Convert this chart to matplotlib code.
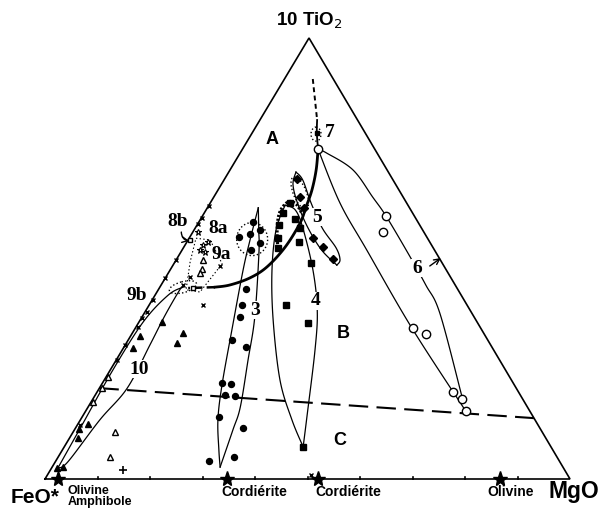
import numpy as np
import matplotlib
matplotlib.use('Agg')
import matplotlib.pyplot as plt
from matplotlib.patches import Ellipse

# ---- data : ternary compositions, % (MgO, 10*TiO2), FeO* = remainder ----
g3_mgo = [10.3, 12.5, 11.1, 9.4, 14.1, 13.1, 16.6, 17.7, 18.7, 19.8, 23.3, 22.7, 24.6, 24.7, 26.7, 26.1, 31.9, 29.2, 33.5]
g3_tio2 = [58.3, 56.5, 55.6, 54.9, 53.5, 51.9, 43.1, 39.5, 36.7, 31.5, 29.9, 21.8, 21.5, 19.0, 18.8, 14.1, 11.6, 4.1, 5.0]

g4_mgo = [15.2, 15.0, 18.0, 15.6, 20.0, 16.9, 21.4, 18.0, 26.0, 26.0, 32.3, 45.5]
g4_tio2 = [62.6, 60.3, 59.0, 57.6, 56.9, 54.6, 53.7, 52.4, 49.0, 39.5, 35.4, 7.3]

g5_mgo = [13.8, 16.4, 18.4, 23.6, 26.5, 29.8]
g5_tio2 = [68.0, 63.9, 61.5, 54.6, 52.6, 49.9]

g6_mgo = [14.4, 35.0, 36.2, 52.9, 56.0, 67.8, 70.3, 72.4]
g6_tio2 = [74.8, 59.6, 56.0, 34.2, 32.9, 19.7, 18.1, 15.4]

g10_mgo = [4.4, 1.8, 1.8, 9.6, 9.7, 1.9, 0.8, 1.6, 1.0, 2.1]
g10_tio2 = [35.6, 32.4, 29.7, 33.1, 30.8, 12.5, 11.3, 9.3, 2.5, 2.7]

otri_mgo = [0.4, 0.5, 0.3, 8.0, 9.9, 5.1, 6.0, 6.0]
otri_tio2 = [23.1, 20.6, 17.5, 10.7, 5.0, 49.7, 47.6, 46.7]

cross_mgo = [0.1, 0.1, 0.0, 0.0, 0.0, 0.2, 0.4, 0.1, 0.4, 0.0, 0.1, 0.5, 10.2, 9.0, 4.6, 4.2, 50.2]
cross_tio2 = [61.9, 59.2, 57.8, 49.7, 45.6, 40.6, 37.9, 36.5, 34.5, 30.4, 27.0, 12.2, 39.5, 48.3, 45.8, 44.0, 0.9]

ast_mgo = [4.0, 3.4, 3.4, 4.6, 1.0]
ast_tio2 = [53.7, 53.1, 51.9, 51.5, 56.0]

osq_mgo = [0.4, 6.4]
osq_tio2 = [54.2, 43.3]

plus_mgo = [13.8]
plus_tio2 = [2.0]

g7_mgo = [12.3]
g7_tio2 = [78.5]

mineral_mgo = [2.5, 34.7, 52.0, 86.7]
mineral_tio2 = [0, 0, 0, 0]
mineral_names = ['Olivine\nAmphibole', 'Cordiérite', 'Cordiérite', 'Olivine']

# boundaries and fields (MgO, TiO2)
ab_top_dash = [(5.4, 90.7), (10.9, 81.4)]
ab_top_solid = [(10.9, 81.4), (12.3, 78.5), (14.4, 74.8)]
ab_curve = [(14.4, 74.8), (16.4, 70.1), (17.9, 65.5), (18.7, 61.7), (19.4, 58.0), (19.3, 52.6),
            (18.1, 48.1), (16.1, 45.6), (13.1, 44.0), (10.5, 43.5)]
ab_low_dash = [(10.5, 43.5), (5.5, 43.3)]
bc_line = [(0.0, 20.6), (86.2, 13.8)]

f6_left = [(14.4, 74.8), (24.7, 62.6), (35.2, 51.9), (52.7, 34.2), (72.4, 15.4)]
f6_right = [(14.4, 74.8), (16.5, 73.9), (23.4, 70.1), (30.3, 63.9), (35.0, 59.6), (43.4, 51.2),
            (50.4, 44.0), (56.3, 37.6), (69.8, 19.0)]
f5_left = [(12.8, 69.6), (13.7, 66.7), (17.0, 62.1), (21.5, 56.9), (26.6, 51.9), (31.2, 48.5)]
f5_right = [(12.8, 69.6), (15.0, 67.8), (19.2, 62.6), (24.2, 56.9), (29.1, 52.4), (31.2, 49.7), (31.2, 48.5)]
f4_left = [(14.5, 62.1), (15.6, 56.5), (19.4, 47.4), (25.3, 36.1), (33.5, 22.4), (40.3, 13.4), (45.5, 7.3)]
f4_right = [(45.5, 7.3), (42.8, 14.1), (36.7, 29.3), (32.6, 38.3), (27.2, 47.4), (20.5, 56.9), (17.0, 61.0), (14.5, 62.1)]
f4_dots = [(18.5, 51.5), (15.8, 56.5), (14.3, 60.5), (14.7, 62.8), (16.4, 62.4), (18.6, 60.3)]
f3_left = [(9.7, 61.5), (11.8, 54.2), (13.9, 47.4), (18.6, 33.8), (23.0, 21.3), (26.2, 13.4), (29.8, 6.6), (32.0, 2.7)]
f3_right = [(32.0, 2.7), (30.2, 11.1), (29.0, 16.3), (25.1, 27.0), (21.5, 36.7), (15.0, 51.2), (12.3, 56.5), (9.7, 61.5)]
f10_outer = [(1.2, 2.5), (0.9, 12.2), (0.5, 24.7), (0.8, 35.6), (2.5, 41.7), (4.4, 43.5)]
f10_inner = [(1.2, 2.5), (2.4, 3.9), (3.7, 13.4), (5.3, 20.6), (4.7, 30.4), (4.2, 37.2), (4.1, 42.9), (4.4, 43.5)]
f89_dots = [(1.3, 54.6), (4.2, 54.2), (9.2, 48.8), (8.2, 42.4), (5.3, 42.9), (2.9, 49.2), (1.3, 54.6)]

# ---- layout ----
FE = (45, 479)
MG = (570, 479)
TI = (309, 38)

plt.rcParams['font.family'] = 'Liberation Sans'
plt.rcParams['lines.scale_dashes'] = False


def tern(mgo, tio2):
    mgo = np.asarray(mgo, float)
    tio2 = np.asarray(tio2, float)
    feo = 100 - mgo - tio2
    x = (feo * FE[0] + mgo * MG[0] + tio2 * TI[0]) / 100
    y = (feo * FE[1] + mgo * MG[1] + tio2 * TI[1]) / 100
    return x, y


def smooth(pairs, n=14):
    a = np.array(pairs, float)
    x, y = tern(a[:, 0], a[:, 1])
    p = np.column_stack([x, y])
    if len(p) < 3:
        return p[:, 0], p[:, 1]
    P = np.vstack([p[0], p, p[-1]])
    out = []
    for i in range(1, len(P) - 2):
        p0, p1, p2, p3 = P[i - 1], P[i], P[i + 1], P[i + 2]
        for s in np.linspace(0, 1, n, endpoint=False):
            out.append(0.5 * (2 * p1 + (-p0 + p2) * s + (2 * p0 - 5 * p1 + 4 * p2 - p3) * s ** 2
                              + (-p0 + 3 * p1 - 3 * p2 + p3) * s ** 3))
    out.append(P[-2])
    out = np.array(out)
    return out[:, 0], out[:, 1]


fig = plt.figure(figsize=(6.03, 5.08), dpi=100)
ax = fig.add_axes([0, 0, 1, 1])
ax.set_xlim(0, 603)
ax.set_ylim(508, 0)
ax.axis('off')

# triangle frame
ax.plot([FE[0], MG[0], TI[0], FE[0]], [FE[1], MG[1], TI[1], FE[1]], color='black', lw=1.2, zorder=2,
        solid_joinstyle='miter')
for m in np.arange(10, 100, 10):
    x, y = tern(m, 0)
    ax.plot([x, x], [y, y - 2.5], color='black', lw=1.2, zorder=2)

# field boundaries
x, y = smooth(ab_top_dash)
ax.plot(x, y, color='black', lw=1.4, dashes=(3.5, 2.5), zorder=2)
x, y = smooth(ab_top_solid)
ax.plot(x, y, color='black', lw=1.3, zorder=2)
x, y = smooth(ab_curve)
ax.plot(x, y, color='black', lw=2.0, zorder=2)
x, y = smooth(ab_low_dash)
ax.plot(x, y, color='black', lw=1.8, dashes=(6, 3), zorder=2)
x, y = smooth(bc_line)
ax.plot(x, y, color='black', lw=1.5, dashes=(14, 6), zorder=2)

for f in [f6_left, f6_right, f5_left, f5_right, f4_left, f4_right, f3_left, f3_right, f10_outer, f10_inner]:
    x, y = smooth(f)
    ax.plot(x, y, color='black', lw=0.9, zorder=2)
x, y = smooth(f4_dots)
ax.plot(x, y, color='black', lw=2.3, dashes=(1.5, 1.3), zorder=2)
a = np.array(f89_dots)
x, y = tern(a[:, 0], a[:, 1])
ax.plot(x, y, color='black', lw=0.8, ls=':', zorder=2)

# dotted envelopes
for (m, t), w, h, ang in [((12.1, 54.4), 31, 33, 0), ((15.9, 64.9), 34, 13, 68),
                          ((12.3, 78.2), 10, 14, 0), ((4.4, 43.5), 28, 11, -15)]:
    cx, cy = tern(m, t)
    ax.add_patch(Ellipse((cx, cy), w, h, angle=ang, fill=False, ls=':', lw=1.0, color='black', zorder=2))

# symbols
def pts(mg, ti, **kw):
    x, y = tern(mg, ti)
    ax.plot(x, y, ls='none', zorder=4, **kw)

pts(g3_mgo, g3_tio2, marker='o', ms=4.3, color='black')
pts(g4_mgo, g4_tio2, marker='s', ms=4.2, color='black')
pts(g5_mgo, g5_tio2, marker='D', ms=4.3, color='black')
pts(g6_mgo, g6_tio2, marker='o', ms=6, mfc='white', mec='black', mew=1.0)
pts(g10_mgo, g10_tio2, marker='^', ms=4.8, color='black')
pts(otri_mgo, otri_tio2, marker='^', ms=4.5, mfc='white', mec='black', mew=1.0)
pts(cross_mgo, cross_tio2, marker='x', ms=3, color='black', mew=1.0)
pts(ast_mgo, ast_tio2, marker='*', ms=5, mfc='white', mec='black', mew=0.8)
pts(osq_mgo, osq_tio2, marker='s', ms=3.5, mfc='white', mec='black', mew=1.0)
pts(plus_mgo, plus_tio2, marker='+', ms=6, color='black', mew=1.2)
pts(g7_mgo, g7_tio2, marker='s', ms=3.5, color='black')
pts(mineral_mgo, mineral_tio2, marker='*', ms=11, color='black')

# arrows
ax.annotate('', xy=tern(50.2, 50.1), xytext=tern(49.0, 48.3),
            arrowprops=dict(arrowstyle='->', lw=1.0, color='black', shrinkA=0, shrinkB=0), zorder=4)
ax.annotate('', xy=tern(0.3, 54.0), xytext=tern(-2.2, 56.0),
            arrowprops=dict(arrowstyle='->', lw=1.0, color='black', shrinkA=0, shrinkB=0,
                            connectionstyle='arc3,rad=0.4'), zorder=4)

# field letters
for s, (m, t) in {'A': (4.6, 76.9), 'B': (40.1, 33.1), 'C': (51.8, 8.8)}.items():
    ax.text(*tern(m, t), s, fontsize=13, fontweight='bold', ha='center', va='center', zorder=3)

# group numbers
serif = dict(family='Liberation Serif', fontsize=14, fontweight='bold', ha='center', va='center', zorder=3)
white = dict(facecolor='white', edgecolor='none', pad=0.6)
for s, (m, t), bg in [('3', (20.7, 38.3), True), ('4', (31.3, 40.4), True), ('5', (21.9, 59.4), True),
                      ('6', (46.8, 47.8), True), ('7', (14.8, 78.5), False), ('10', (5.4, 24.9), True),
                      ('8a', (4.3, 56.9), False), ('8b', (-4.0, 58.3), False), ('9a', (7.9, 51.0), False),
                      ('9b', (-3.4, 41.5), False)]:
    ax.text(*tern(m, t), s, bbox=white if bg else None, **serif)

# apex labels
ax.annotate('10 TiO$_2$', xy=TI, xytext=(0, 12), textcoords='offset points', ha='center', va='center',
            fontsize=13.5, fontweight='bold')
ax.annotate('FeO*', xy=FE, xytext=(-7, -13), textcoords='offset points', ha='center', va='center',
            fontsize=15, fontweight='bold')
ax.annotate('MgO', xy=MG, xytext=(3, -9), textcoords='offset points', ha='center', va='center',
            fontsize=16.5, fontweight='bold')

for name, m, dx, fs in zip(mineral_names, mineral_mgo, [7, -4, -2, -9], [9, 10, 10, 10]):
    ax.annotate(name, xy=tern(m, 0), xytext=(dx, -4.5), textcoords='offset points', ha='left', va='top',
                fontsize=fs, fontweight='bold', linespacing=0.85)

fig.savefig('out.png', dpi=100)
